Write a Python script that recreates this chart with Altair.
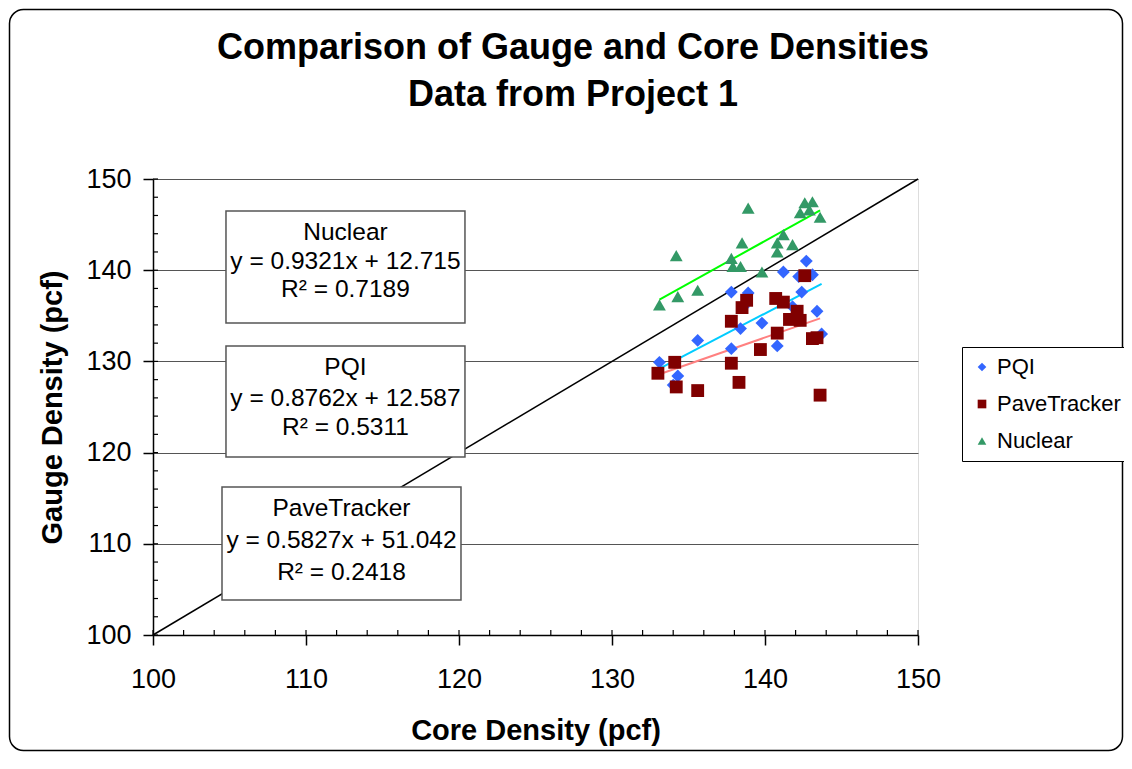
import altair as alt
import pandas as pd

FONT = "Liberation Sans"

series_names = ["PQI", "PaveTracker", "Nuclear"]
point_colors = ["#3366FF", "#800000", "#339966"]
point_shapes = ["diamond", "square", "triangle-up"]
trend_colors = ["#00CCFF", "#FF8080", "#00FF00"]

pqi_x = [133.1, 134.3, 134.0, 135.6, 137.8, 137.8, 138.4, 138.9, 138.6, 139.8,
         140.8, 141.2, 141.8, 142.2, 142.4, 142.7, 143.1, 143.4, 143.7]
pqi_y = [129.9, 128.4, 127.4, 132.3, 137.6, 131.4, 133.6, 137.5, 136.0, 134.2,
         131.7, 139.8, 136.0, 139.3, 137.6, 141.0, 139.5, 135.5, 133.0]

pave_x = [133.0, 134.1, 134.2, 135.6, 137.8, 137.8, 138.3, 138.5, 138.8, 139.7,
          140.7, 141.2, 140.8, 142.1, 141.6, 142.3, 142.6, 143.1, 143.4, 143.6]
pave_y = [128.7, 129.9, 127.2, 126.8, 134.4, 129.8, 127.7, 135.9, 136.7, 131.3,
          136.9, 136.5, 133.1, 135.5, 134.6, 134.5, 139.4, 132.5, 132.6, 126.3]

nuclear_x = [133.1, 134.2, 134.3, 135.6, 137.8, 137.9, 138.4, 138.5, 138.9, 139.8,
             140.8, 140.8, 141.2, 141.8, 142.3, 142.6, 142.9, 143.1, 143.6]
nuclear_y = [136.2, 141.6, 137.1, 137.8, 141.3, 140.4, 140.4, 143.0, 146.8, 139.8,
             143.0, 142.0, 143.9, 142.8, 146.3, 147.4, 146.6, 147.5, 145.8]

# trendline equations printed on the chart
slopes = {"PQI": 0.8762, "PaveTracker": 0.5827, "Nuclear": 0.9321}
intercepts = {"PQI": 12.587, "PaveTracker": 51.042, "Nuclear": 12.715}
r_squared = {"PQI": "0.5311", "PaveTracker": "0.2418", "Nuclear": "0.7189"}

title_lines = ["Comparison of Gauge and Core Densities", "Data from Project 1"]

major_ticks = [100, 110, 120, 130, 140, 150]
minor_ticks = list(range(100, 151, 2))
identity = [100, 150]

# annotation boxes (data coordinates)
box_series = ["Nuclear", "PQI", "PaveTracker"]
box_x1 = [104.77, 104.77, 104.51]
box_x2 = [120.39, 120.39, 120.13]
box_y1 = [146.49, 131.69, 116.23]
box_y2 = [134.21, 119.52, 103.84]
box_tx = [112.58, 112.58, 112.32]
box_ty = [[144.08, 140.90, 137.83], [129.28, 125.88, 122.70], [113.82, 110.31, 106.80]]

W, H = 765, 456
PAD_L, PAD_T = 145, 171
TOTAL_W, TOTAL_H = 1116, 744
TITLE_X = 420
TITLE_Y = [-131, -84]

rows = []
for name, xs, ys in [("PQI", pqi_x, pqi_y), ("PaveTracker", pave_x, pave_y), ("Nuclear", nuclear_x, nuclear_y)]:
    for a, b in zip(xs, ys):
        rows.append({"series": name, "x": a, "y": b})
points_df = pd.DataFrame(rows)

trend_rows = []
for name, xs in [("PQI", pqi_x), ("PaveTracker", pave_x), ("Nuclear", nuclear_x)]:
    for xv in (min(xs), max(xs)):
        trend_rows.append({"series": name, "x": xv, "slope": slopes[name], "intercept": intercepts[name]})
trend_df = pd.DataFrame(trend_rows)

box_df = pd.DataFrame({"series": box_series, "x1": box_x1, "x2": box_x2, "y1": box_y1, "y2": box_y2})
text_rows = []
for i, name in enumerate(box_series):
    lines = [name, f"y = {slopes[name]:.4f}x + {intercepts[name]:.3f}", f"R\u00b2 = {r_squared[name]}"]
    for j, t in enumerate(lines):
        text_rows.append({"x": box_tx[i], "y": box_ty[i][j], "t": t})
text_df = pd.DataFrame(text_rows)

xscale = alt.Scale(domain=[100, 150], nice=False, zero=False)
yscale = alt.Scale(domain=[100, 150], nice=False, zero=False)

xaxis = alt.Axis(values=major_ticks, title="Core Density (pcf)", grid=False, labelFlush=False,
                 tickSize=10, tickColor="black", domainColor="black", domainWidth=1.5, tickWidth=1.5,
                 labelFontSize=27, labelFont=FONT, labelColor="black", labelPadding=21,
                 titleFontSize=29, titleFont=FONT, titleFontWeight="bold", titleColor="black",
                 titlePadding=24)
yaxis = alt.Axis(values=major_ticks, title="Gauge Density (pcf)", grid=True, gridColor="#555555",
                 labelFlush=False,
                 gridWidth=1, tickSize=10, tickColor="black", domainColor="black", domainWidth=1.5,
                 tickWidth=1.5, labelFontSize=27, labelFont=FONT, labelColor="black", labelPadding=12,
                 titleFontSize=29, titleFont=FONT, titleFontWeight="bold", titleColor="black",
                 titlePadding=18)

frame = alt.Chart(pd.DataFrame({"a": [0]})).mark_rect(
    fillOpacity=0, stroke="black", strokeWidth=1.5, cornerRadius=14, clip=False
).encode(x=alt.value(-PAD_L + 1.5), x2=alt.value(TOTAL_W - PAD_L - 1.5),
         y=alt.value(-PAD_T + 1.5), y2=alt.value(TOTAL_H - PAD_T - 1.5))

title_layers = []
for line, ty in zip(title_lines, TITLE_Y):
    title_layers.append(
        alt.Chart(pd.DataFrame({"t": [line]})).mark_text(
            font=FONT, fontSize=36, fontWeight="bold", color="black", align="center", baseline="middle"
        ).encode(text="t:N", x=alt.value(TITLE_X), y=alt.value(ty))
    )

diag_df = pd.DataFrame({"x": identity, "y": identity})
diag = alt.Chart(diag_df).mark_line(color="black", strokeWidth=1.5).encode(
    x=alt.X("x:Q", scale=xscale, axis=xaxis),
    y=alt.Y("y:Q", scale=yscale, axis=yaxis),
)

boxes = alt.Chart(box_df).mark_rect(fill="white", stroke="#555555", strokeWidth=1.5).encode(
    x=alt.X("x1:Q", scale=xscale), x2="x2:Q", y=alt.Y("y1:Q", scale=yscale), y2="y2:Q"
)
texts = alt.Chart(text_df).mark_text(font=FONT, fontSize=24.5, color="black", align="center",
                                     baseline="middle").encode(
    x=alt.X("x:Q", scale=xscale), y=alt.Y("y:Q", scale=yscale), text="t:N"
)

trend_layers = []
for name, col in zip(series_names, trend_colors):
    trend_layers.append(
        alt.Chart(trend_df).transform_filter(alt.datum.series == name).transform_calculate(
            yfit="datum.slope * datum.x + datum.intercept"
        ).mark_line(strokeWidth=2, color=col).encode(
            x=alt.X("x:Q", scale=xscale),
            y=alt.Y("yfit:Q", scale=yscale),
        )
    )

legend_kw = dict(title=None, orient="none", legendX=809, legendY=168,
                 labelFont=FONT, labelFontSize=22, labelColor="black",
                 symbolSize=75, rowPadding=15, padding=9,
                 strokeColor="black", fillColor="white",
                 symbolStrokeWidth=0, labelOffset=4)

pts = alt.Chart(points_df).mark_point(filled=True, opacity=1, size=165).encode(
    x=alt.X("x:Q", scale=xscale),
    y=alt.Y("y:Q", scale=yscale),
    color=alt.Color("series:N", scale=alt.Scale(domain=series_names, range=point_colors),
                    legend=alt.Legend(**legend_kw)),
    shape=alt.Shape("series:N", scale=alt.Scale(domain=series_names, range=point_shapes),
                    legend=alt.Legend(**legend_kw)),
)

xmin_df = pd.DataFrame({"v": minor_ticks})
xminor = alt.Chart(xmin_df).mark_rule(color="black", strokeWidth=1.2).encode(
    x=alt.X("v:Q", scale=xscale), y=alt.value(H), y2=alt.value(H - 5)
)
yminor = alt.Chart(xmin_df).mark_rule(color="black", strokeWidth=1.2).encode(
    y=alt.Y("v:Q", scale=yscale), x=alt.value(0), x2=alt.value(5)
)

chart = alt.layer(diag, boxes, texts, *trend_layers, pts, xminor, yminor, *title_layers, frame).properties(
    width=W, height=H,
    autosize=alt.AutoSizeParams(type="none"),
    padding={"left": PAD_L, "top": PAD_T, "right": TOTAL_W - PAD_L - W, "bottom": TOTAL_H - PAD_T - H},
).configure_view(stroke="#808080", strokeWidth=1.5).configure(background="white")

chart.save("out.html", embed_options={"renderer": "svg", "actions": False})
